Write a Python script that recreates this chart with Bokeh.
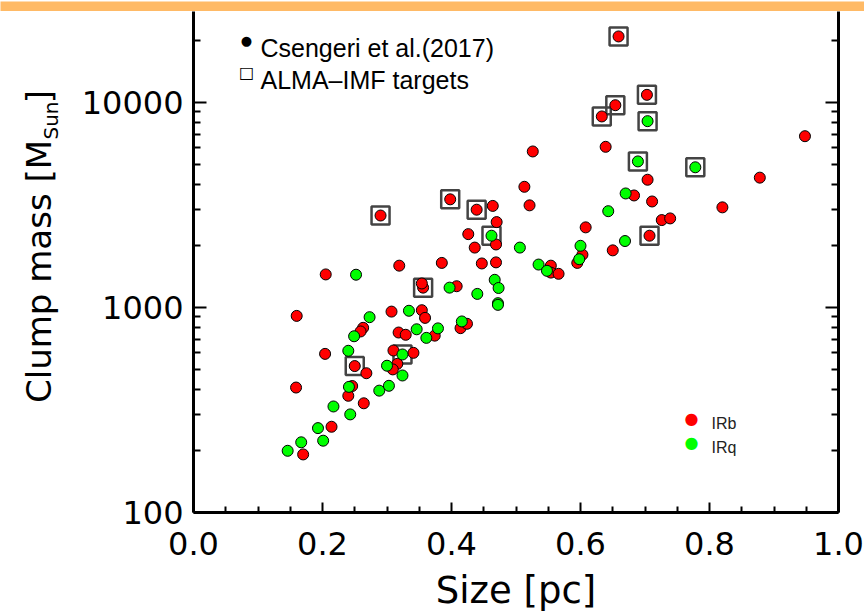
import math
from bokeh.plotting import figure
from bokeh.layouts import column, row
from bokeh.models import (Range1d, LogAxis, FixedTicker, Label, PrintfTickFormatter,
                          CustomJSTickFormatter)
from bokeh.embed import file_html
from bokeh.resources import INLINE

# ---------------- data ----------------
# IRb clumps (red), Csengeri et al. (2017): size [pc], mass [Msun]
irb_size = [0.659, 0.703, 0.654, 0.633, 0.948, 0.639, 0.878, 0.704, 0.683, 0.711,
            0.820, 0.726, 0.739, 0.608, 0.707, 0.650, 0.603, 0.595, 0.554, 0.554,
            0.566, 0.526, 0.513, 0.521, 0.398, 0.439, 0.464, 0.470, 0.290, 0.426,
            0.469, 0.436, 0.319, 0.385, 0.447, 0.469, 0.205, 0.356, 0.354, 0.408,
            0.160, 0.307, 0.354, 0.359, 0.263, 0.259, 0.318, 0.329, 0.374, 0.414,
            0.424, 0.204, 0.250, 0.268, 0.310, 0.341, 0.316, 0.309, 0.159, 0.246,
            0.240, 0.264, 0.214, 0.170]
irb_mass = [21000, 10900, 9700, 8550, 6850, 6080, 4300, 4200, 3520, 3290,
            3080, 2670, 2720, 2460, 2240, 1900, 1810, 1650, 1600, 1480,
            1460, 5770, 3880, 3150, 3370, 3000, 3130, 2610, 2810, 2280,
            2030, 1960, 1600, 1650, 1640, 1660, 1450, 1250, 1310, 1270,
            910, 955, 970, 890, 796, 764, 755, 736, 729, 793,
            833, 594, 518, 478, 617, 601, 531, 499, 407, 414,
            371, 341, 262, 192]

# IRq clumps (green)
irq_size = [0.704, 0.689, 0.778, 0.670, 0.643, 0.669, 0.600, 0.598, 0.535, 0.548,
            0.506, 0.462, 0.467, 0.473, 0.472, 0.472, 0.440, 0.397, 0.252, 0.273,
            0.334, 0.416, 0.249, 0.346, 0.361, 0.379, 0.240, 0.324, 0.300, 0.324,
            0.241, 0.288, 0.303, 0.217, 0.243, 0.193, 0.201, 0.167, 0.146]
irq_mass = [8110, 5160, 4830, 3600, 2950, 2110, 2000, 1720, 1620, 1510,
            1960, 2240, 1365, 1245, 1050, 1030, 1165, 1250, 1445, 897,
            964, 855, 724, 783, 711, 791, 615, 590, 520, 466,
            410, 393, 415, 329, 301, 258, 224, 220, 200]

# ALMA-IMF targets (open squares)
alma_size = [0.659, 0.703, 0.654, 0.633, 0.704, 0.689, 0.778, 0.707,
             0.398, 0.439, 0.290, 0.462, 0.356, 0.250, 0.324]
alma_mass = [21000, 10900, 9700, 8550, 8110, 5160, 4830, 2240,
             3370, 3000, 2810, 2240, 1250, 518, 590]

x_ticks = [0.0, 0.2, 0.4, 0.6, 0.8, 1.0]
y_ticks = [100, 1000, 10000]

x_title = "Size [pc]"
y_title_main = "Clump mass [M"
y_title_sub = "Sun"
y_title_end = "]"
legend_top = ["Csengeri et al.(2017)", "ALMA\u2013IMF targets"]
legend_types = ["IRb", "IRq"]

TICK_FONT = "DejaVu Sans"
LEG_FONT = "Liberation Sans"
BAND = "#FFBA66"

# ---------------- orange header band ----------------
band = figure(width=864, height=11, output_backend="svg", toolbar_location=None,
              x_range=Range1d(0, 1), y_range=Range1d(0, 1),
              x_axis_location=None, y_axis_location=None, min_border=0)
band.grid.visible = False
band.outline_line_color = None
band.background_fill_color = BAND
band.border_fill_color = BAND

# ---------------- y title strip (rotated text with subscript) ----------------
# The row aligns this strip's frame with the main frame (bottom border 102 px),
# so its y range runs 102..603 to make one unit one pixel up from the page bottom.
ytf = figure(width=70, height=603, output_backend="svg", toolbar_location=None,
             x_range=Range1d(0, 70), y_range=Range1d(102, 603),
             x_axis_location=None, y_axis_location=None, min_border=0)
ytf.grid.visible = False
ytf.outline_line_color = None
rot = math.pi / 2
for txt, cx, cy, fs in [(y_title_main, 38, 343, "34px"),
                        (y_title_sub, 50, 494, "20px"),
                        (y_title_end, 38, 518, "34px")]:
    ytf.add_layout(Label(x=cx, y=cy, angle=rot, text=txt, text_font=TICK_FONT,
                         text_font_size=fs, text_align="center",
                         text_baseline="middle", text_color="black"))

# ---------------- main plot ----------------
p = figure(width=794, height=603, output_backend="svg", toolbar_location=None,
           x_range=Range1d(0, 1), y_range=Range1d(100, 27793), y_axis_type="log",
           min_border_left=123, min_border_right=26, min_border_top=0, min_border_bottom=102)
p.grid.visible = False
p.outline_line_color = None

x_minor = [round(i * 0.05, 2) for i in range(21) if i % 4]
y_minor = [k * 10 ** e for e in (2, 3, 4) for k in range(2, 10)]

xa = p.xaxis[0]
xa.ticker = FixedTicker(ticks=x_ticks, minor_ticks=x_minor)
xa.formatter = PrintfTickFormatter(format="%.1f")
xa.axis_label = x_title
ya = p.yaxis[0]
ya.ticker = FixedTicker(ticks=y_ticks, minor_ticks=y_minor)
ya.formatter = PrintfTickFormatter(format="%d")

ra = LogAxis(ticker=FixedTicker(ticks=y_ticks, minor_ticks=y_minor),
             formatter=CustomJSTickFormatter(code="return ''"))
p.add_layout(ra, "right")

for ax in (xa, ya, ra):
    ax.axis_line_width = 3
    ax.axis_line_color = "black"
    ax.major_tick_out = 0
    ax.minor_tick_out = 0
    ax.major_tick_line_width = 2
    ax.minor_tick_line_width = 2
    ax.major_tick_line_color = "black"
    ax.minor_tick_line_color = "black"
    ax.major_label_text_font = TICK_FONT
    ax.major_label_text_font_size = "32px"
    ax.major_label_text_color = "black"
for ax in (ya, ra):
    ax.major_tick_in = 13
    ax.minor_tick_in = 7
xa.major_tick_in = 10
xa.minor_tick_in = 6
xa.major_label_standoff = 19
ya.major_label_standoff = 10
xa.axis_label_text_font = TICK_FONT
xa.axis_label_text_font_size = "37px"
xa.axis_label_text_font_style = "normal"
xa.axis_label_text_color = "black"
xa.axis_label_standoff = 11

# data marks
p.scatter(alma_size, alma_mass, marker="square", size=18, fill_color=None,
          line_color="#444444", line_width=2.5)
p.scatter(irb_size, irb_mass, size=11, fill_color="#FF0000", line_color="black", line_width=1)
p.scatter(irq_size, irq_mass, size=11, fill_color="#00FF00", line_color="black", line_width=1)

# legends (positions in screen px relative to the plot frame)
p.add_layout(Label(x=53, y=472, x_units="screen", y_units="screen", text="\u25CF",
                   text_font="DejaVu Sans", text_font_size="13px", text_align="center",
                   text_baseline="middle", text_color="black"))
p.add_layout(Label(x=67, y=465, x_units="screen", y_units="screen", text=legend_top[0],
                   text_font=LEG_FONT, text_font_size="25px", text_align="left",
                   text_baseline="alphabetic", text_color="black"))
p.add_layout(Label(x=53, y=440, x_units="screen", y_units="screen", text="\u25A1",
                   text_font="DejaVu Sans", text_font_size="16px", text_font_style="bold",
                   text_align="center", text_baseline="middle", text_color="black"))
p.add_layout(Label(x=67, y=433, x_units="screen", y_units="screen", text=legend_top[1],
                   text_font=LEG_FONT, text_font_size="25px", text_align="left",
                   text_baseline="alphabetic", text_color="black"))

for i, (lab, col) in enumerate(zip(legend_types, ["#FF0000", "#00FF00"])):
    p.add_layout(Label(x=498, y=94 - 24 * i, x_units="screen", y_units="screen",
                       text="\u25CF", text_font="DejaVu Sans", text_font_size="16px",
                       text_align="center", text_baseline="middle", text_color=col))
    p.add_layout(Label(x=518, y=89 - 24 * i, x_units="screen", y_units="screen",
                       text=lab, text_font=LEG_FONT, text_font_size="16px",
                       text_align="left", text_baseline="alphabetic", text_color="#222222"))

layout = column(band, row(ytf, p, spacing=0), spacing=0)
open("out.html", "w").write(file_html(layout, INLINE))
